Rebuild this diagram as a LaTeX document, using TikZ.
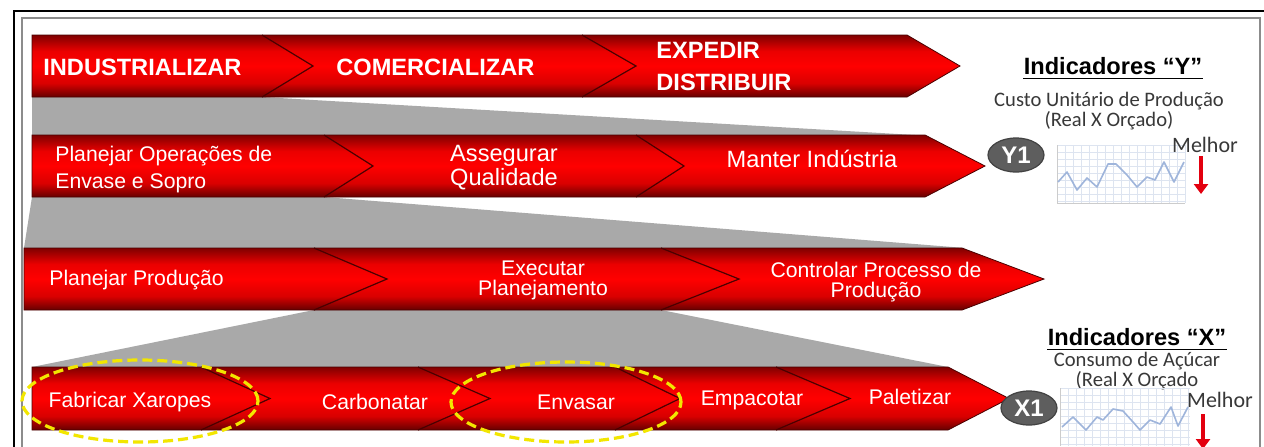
\documentclass[tikz,border=0pt]{standalone}
\usepackage{fontspec}
\usepackage{tikz}
\usetikzlibrary{arrows.meta,shapes.geometric}
\setmainfont{Liberation Sans}
\newfontfamily\calibri{Carlito}
\definecolor{bandEdge}{HTML}{4A0000}
\definecolor{fanGray}{HTML}{A9A9A9}
\definecolor{markYellow}{HTML}{F2E600}
\definecolor{kpiGray}{HTML}{5E5E5E}
\definecolor{gridBlue}{HTML}{DDE4F0}
\definecolor{lineBlue}{HTML}{9FB5DB}
\definecolor{better}{HTML}{E3000F}
% red bands: dark edges, bright middle
\pgfdeclareverticalshading{bandshade}{100bp}{color(0bp)=(red!40!black); color(25bp)=(red!40!black);
  color(36bp)=(red!85!black); color(50bp)=(red); color(62bp)=(red!92!black);
  color(75bp)=(red!50!black); color(100bp)=(red!50!black)}
\tikzset{
  bandrow/.style={shading=bandshade, draw=bandEdge, line width=0.4pt},
  notch/.style={draw=bandEdge, line width=0.6pt},
  fan/.style={fill=fanGray},
  steplbl/.style={text=white, font=\fontsize{10.6}{10}\selectfont, inner sep=0pt},
  toplbl/.style={steplbl, font=\bfseries\fontsize{11.8}{16}\selectfont},
  biglbl/.style={steplbl, font=\fontsize{11.8}{10}\selectfont},
  ring/.style={ellipse, draw=markYellow, line width=1.6pt, dash pattern=on 5pt off 2.5pt, inner sep=0pt},
  kpi/.style={ellipse, fill=kpiGray, draw=kpiGray!70!black, line width=0.6pt, text=white,
    font=\bfseries\fontsize{12}{12}\selectfont, minimum width=28pt, minimum height=17pt, inner sep=0pt},
  kpititle/.style={font=\bfseries\fontsize{11.8}{14}\selectfont, inner sep=0pt},
  kpinote/.style={font=\calibri\fontsize{10.3}{8.8}\selectfont, align=center, inner sep=0pt, text=black!78},
  gridline/.style={draw=gridBlue, line width=0.3pt},
  trend/.style={draw=lineBlue, line width=0.8pt, line join=round},
  betterarr/.style={-{Triangle[width=7pt,length=5pt]}, line width=1.6pt, draw=better}
}

\begin{document}
\begin{tikzpicture}[x=0.5pt,y=-0.5pt]
  \clip (0,0) rectangle (1264,446);
  \fill[white] (0,0) rectangle (1264,446);
  % frame
  \draw[line width=1.3pt] (14,460) -- (14,11) -- (1270,11);
  \draw[black!45, line width=0.8pt] (22,460) -- (22,18) -- (1260,18) -- (1260,460);

  % grey fans between the levels
  \fill[fan] (32,97) -- (262,97) -- (915,135) -- (32,135) -- cycle;
  \fill[fan] (32,197) -- (324,197) -- (965,248) -- (24,248) -- cycle;
  \fill[fan] (314,310) -- (661,310) -- (948,367) -- (32,367) -- cycle;

  % bands
  \foreach \xs/\ya/\yb/\xe/\xt in {32/35/97/907/960, 32/135/197/925/985,
                                   24/248/310/962/1044, 32/367/430/948/1009}
    \shade[bandrow] (\xs,\ya) -- (\xe,\ya) -- (\xt,{(\ya+\yb)/2}) -- (\xe,\yb) -- (\xs,\yb) -- cycle;
  \foreach \xc/\xp/\ya/\yb in {262/313/35/97, 582/636/35/97,
                               324/373/135/197, 636/684/135/197,
                               314/387/248/310, 661/739/248/310,
                               201/270/367/430, 418/490/367/430, 615/680/367/430, 776/850/367/430}
    \draw[notch] (\xc,\ya) -- (\xp,{(\ya+\yb)/2}) -- (\xc,\yb);

  % level 1
  \node[toplbl, anchor=west] (industrializar) at (43,67) {INDUSTRIALIZAR};
  \node[toplbl, anchor=west] (comercializar) at (336,67) {COMERCIALIZAR};
  \node[toplbl, anchor=west, align=left] (expedir) at (656,66) {EXPEDIR\\DISTRIBUIR};
  % level 2
  \node[steplbl, anchor=west, align=left, font=\fontsize{10.6}{13.5}\selectfont] (planOper) at (55,170)
    {Planejar Operações de\\Envase e Sopro};
  \node[biglbl, align=center] (assegurar) at (504,168) {Assegurar\\Qualidade};
  \node[biglbl] (manter) at (812,159) {Manter Indústria};
  % level 3
  \node[steplbl, anchor=west] (planProd) at (49,280) {Planejar Produção};
  \node[steplbl, align=center] (executar) at (543,280) {Executar\\Planejamento};
  \node[steplbl, align=center] (controlar) at (876,282) {Controlar Processo de\\Produção};
  % level 4
  \node[steplbl] (xaropes) at (130,402) {Fabricar Xaropes};
  \node[steplbl] (carbonatar) at (375,402) {Carbonatar};
  \node[steplbl] (envasar) at (576,402) {Envasar};
  \node[steplbl] (empacotar) at (752,400) {Empacotar};
  \node[steplbl] (paletizar) at (910,397) {Paletizar};
  \node[ring, minimum width=118pt, minimum height=41pt] (ringXaropes) at (140,401) {};
  \node[ring, minimum width=115pt, minimum height=40pt] (ringEnvasar) at (566,402) {};

  % indicator Y
  \node[kpititle] (indY) at (1113,66) {Indicadores “Y”};
  \draw[line width=0.9pt] ([yshift=-2pt]indY.base west) -- ([yshift=-2pt]indY.base east);
  \node[kpinote] (custoY) at (1109,111) {Custo Unitário de Produção\\(Real X Orçado)};
  \node[kpi] (y1) at (1016,155) {Y1};
  \foreach \gx in {1057,1065,...,1185} \draw[gridline] (\gx,145) -- (\gx,203);
  \foreach \gy in {145,152,...,203} \draw[gridline] (1057,\gy) -- (1185,\gy);
  \draw[black!20, line width=0.4pt] (1057,145) -- (1057,203) -- (1185,203);
  \draw[trend] plot coordinates {(1058,182) (1067,172) (1077,190) (1087,178) (1097,187) (1108,164) (1116,164)
    (1127,175) (1137,187) (1147,177) (1155,180) (1164,162) (1174,182) (1184,162)};
  \node[kpinote, font=\calibri\fontsize{11}{11}\selectfont] (melhorY) at (1205,145) {Melhor};
  \coordinate (yBetterA) at (1201,156);
  \coordinate (yBetterB) at (1201,194);
  \draw[betterarr] (yBetterA) -- (yBetterB);

  % indicator X
  \node[kpititle] (indX) at (1137,337) {Indicadores “X”};
  \draw[line width=0.9pt] ([yshift=-2pt]indX.base west) -- ([yshift=-2pt]indX.base east);
  \node[kpinote] (consumoX) at (1137,371) {Consumo de Açúcar\\(Real X Orçado};
  \node[kpi] (x1) at (1029,408) {X1};
  \foreach \gx in {1060,1068,...,1190} \draw[gridline] (\gx,388) -- (\gx,446);
  \foreach \gy in {388,395,...,446} \draw[gridline] (1060,\gy) -- (1190,\gy);
  \draw[black!20, line width=0.4pt] (1060,388) -- (1060,446);
  \draw[trend] plot coordinates {(1062,427) (1073,417) (1086,430) (1097,417) (1103,420) (1113,409) (1123,411)
    (1133,422) (1140,430) (1150,420) (1160,424) (1171,407) (1178,426) (1188,407)};
  \node[kpinote, font=\calibri\fontsize{11}{11}\selectfont] (melhorX) at (1220,400) {Melhor};
  \coordinate (xBetterA) at (1203,414);
  \coordinate (xBetterB) at (1203,449);
  \draw[betterarr] (xBetterA) -- (xBetterB);
\end{tikzpicture}
\end{document}
